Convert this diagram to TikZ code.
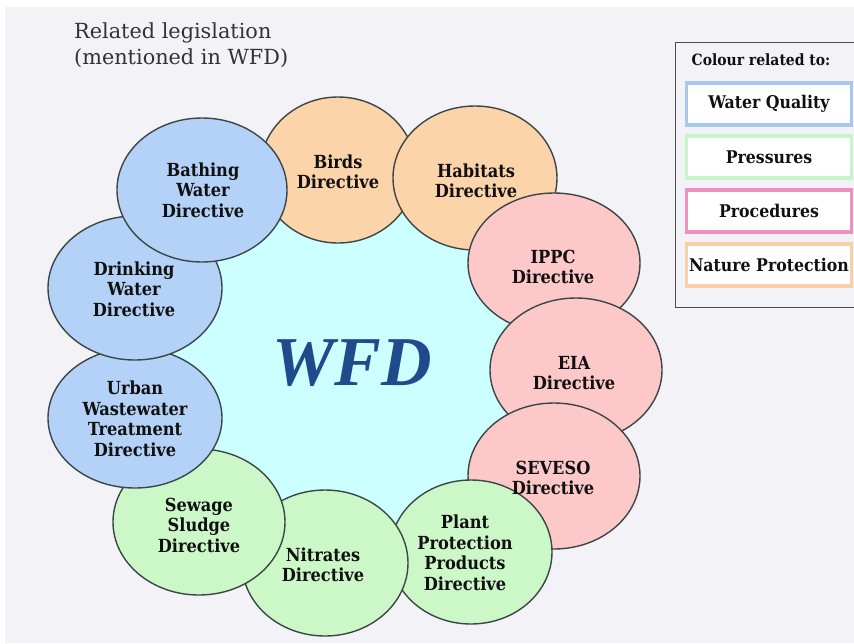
\documentclass[tikz,border=0pt]{standalone}
\usepackage{fontspec}
\setmainfont{DejaVu Serif Condensed}
\newfontfamily\titlefont{DejaVu Serif}
\newfontfamily\wfdfont{Liberation Serif}
\usetikzlibrary{shapes.geometric}

\definecolor{bgc}{HTML}{F2F2F7}
\definecolor{cyanc}{HTML}{CCFFFF}
\definecolor{bluec}{HTML}{B4D2F8}
\definecolor{orangec}{HTML}{FCD4AA}
\definecolor{pinkc}{HTML}{FCC8C8}
\definecolor{greenc}{HTML}{CCF8C8}
\definecolor{edgec}{HTML}{3C4646}
\definecolor{wfdc}{HTML}{1F4A8C}
\definecolor{lgblue}{HTML}{A8C8F0}
\definecolor{lggreen}{HTML}{C8F5C8}
\definecolor{lgpink}{HTML}{F090C0}
\definecolor{lgorange}{HTML}{F8D0A8}
\definecolor{txtc}{HTML}{101010}

\tikzset{
  dirshape/.style={ellipse, draw=edgec, line width=1.4pt, inner sep=0pt},
  dirtext/.style={align=center, font=\bfseries\fontsize{18}{20.5}\selectfont, text=txtc, inner sep=0pt},
  legbox/.style={draw=#1, line width=3.5pt, fill=white, minimum width=165pt, minimum height=42pt, inner sep=0pt,
     font=\bfseries\fontsize{17.5}{20}\selectfont, text=txtc},
}

\begin{document}
\begin{tikzpicture}[x=1pt,y=-1pt]
\useasboundingbox (0,0) rectangle (854,643);
\fill[white] (0,0) rectangle (854,643);
\fill[bgc] (5,7) rectangle (854,643);

% title
\node[anchor=north west, align=left, font=\titlefont\fontsize{20.8}{26.5}\selectfont, text=black!80, inner sep=0pt] (title) at (74,22)
  {Related legislation\\(mentioned in WFD)};

% central area
\node[ellipse, fill=cyanc, minimum width=456pt, minimum height=430pt, inner sep=0pt] (core) at (355,370) {};

% ellipses (stacking order)
\node[dirshape, fill=orangec, minimum width=156pt, minimum height=146pt] (birds) at (338,170) {};
\node[dirshape, fill=orangec, minimum width=164pt, minimum height=144pt] (habitats) at (475,178) {};
\node[dirshape, fill=pinkc, minimum width=172pt, minimum height=140pt] (ippc) at (554,263) {};
\node[dirshape, fill=pinkc, minimum width=172pt, minimum height=144pt] (eia) at (576,370) {};
\node[dirshape, fill=pinkc, minimum width=172pt, minimum height=146pt] (seveso) at (554,476) {};
\node[dirshape, fill=greenc, minimum width=162pt, minimum height=144pt] (plant) at (471,552) {};
\node[dirshape, fill=greenc, minimum width=166pt, minimum height=146pt] (nitrates) at (325,563) {};
\node[dirshape, fill=greenc, minimum width=172pt, minimum height=146pt] (sewage) at (199,522) {};
\node[dirshape, fill=bluec, minimum width=174pt, minimum height=140pt] (urban) at (135,418) {};
\node[dirshape, fill=bluec, minimum width=174pt, minimum height=144pt] (drinking) at (135,288) {};
\node[dirshape, fill=bluec, minimum width=170pt, minimum height=144pt] (bathing) at (202,190) {};

% texts
\node[dirtext] (tbirds) at (338,172) {Birds\\Directive};
\node[dirtext] (thabitats) at (476,181) {Habitats\\Directive};
\node[dirtext] (tippc) at (553,267) {IPPC\\Directive};
\node[dirtext] (teia) at (574,373) {EIA\\Directive};
\node[dirtext] (tseveso) at (553,478) {SEVESO\\Directive};
\node[dirtext] (tplant) at (465,553) {Plant\\Protection\\Products\\Directive};
\node[dirtext] (tnitrates) at (323,565) {Nitrates\\Directive};
\node[dirtext] (tsewage) at (199,525) {Sewage\\Sludge\\Directive};
\node[dirtext] (turban) at (135,419) {Urban\\Wastewater\\Treatment\\Directive};
\node[dirtext] (tdrinking) at (134,289) {Drinking\\Water\\Directive};
\node[dirtext] (tbathing) at (203,190) {Bathing\\Water\\Directive};

% WFD
\node[font=\wfdfont\bfseries\itshape\fontsize{70}{70}\selectfont, text=wfdc, inner sep=0pt] (wfd) at (352,363) {WFD};

% legend
\draw[draw=black!70, line width=1pt, fill=bgc] (675,42) rectangle (860,307);
\node[anchor=base, font=\bfseries\fontsize{15.5}{18}\selectfont, text=txtc, inner sep=0pt] (legtitle) at (761,65) {Colour related to:};
\node[legbox=lgblue] (lwq) at (769,104) {Water Quality};
\node[legbox=lggreen] (lpr) at (769,157) {Pressures};
\node[legbox=lgpink] (lpc) at (769,211) {Procedures};
\node[legbox=lgorange] (lnp) at (769,265) {Nature Protection};
\end{tikzpicture}
\end{document}
